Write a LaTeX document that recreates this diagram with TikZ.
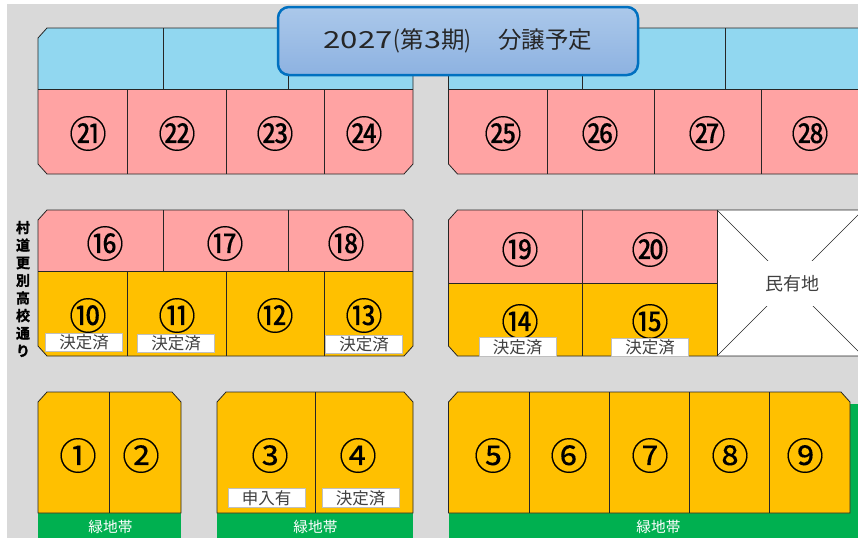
\documentclass[tikz,border=0pt]{standalone}
\usepackage{fontspec}
\setmainfont{Noto Sans CJK JP}
\newfontfamily\numfont{Noto Sans CJK JP}[FakeBold=0.2]
\newfontfamily\roadfont{Noto Sans CJK JP Bold}[FakeBold=1.5]
\usetikzlibrary{shadings}
\definecolor{roadgray}{HTML}{D9D9D9}
\definecolor{lotpink}{HTML}{FFA3A3}
\definecolor{lotblue}{HTML}{91D7F0}
\definecolor{lotorange}{HTML}{FFC000}
\definecolor{beltgreen}{HTML}{00B050}
\definecolor{titleedge}{HTML}{0070C0}
\definecolor{titletop}{HTML}{ABC8EA}
\definecolor{titlebot}{HTML}{8DB2E1}
\definecolor{tagedge}{HTML}{BFBFBF}
\definecolor{tagtext}{HTML}{404040}
\tikzset{
  lotline/.style={draw=black!85,line width=0.8pt},
  numlabel/.style={inner sep=0pt,font=\numfont\fontsize{37.5}{37.5}\selectfont,text=black},
  tagbox/.style={draw=tagedge,line width=1pt,fill=white,minimum width=77pt,minimum height=18.5pt,inner sep=0pt,text=tagtext,font=\fontsize{16.5}{16.5}\selectfont},
  beltlabel/.style={inner sep=0pt,text=white,font=\fontsize{14.7}{14.7}\selectfont},
}
\newcommand{\lotnum}[3]{\node[numlabel] (n#3) at (#1,#2+0.5) {#3};}
\begin{document}
\begin{tikzpicture}[x=1pt,y=-1pt]
\useasboundingbox (0,0) rectangle (858,538);
\fill[white] (0,0) rectangle (858,538);
\fill[roadgray] (7,4) rectangle (858,538);
% top-left block
\fill[lotblue] (38,89) -- (38,38) -- (47,28) -- (413,28) -- (413,89) -- cycle;
\fill[lotpink] (38,89) -- (413,89) -- (413,164) -- (404,174) -- (47,174) -- (38,164) -- cycle;
\draw[lotline] (38,89) -- (38,38) -- (47,28) -- (413,28) -- (413,164) -- (404,174) -- (47,174) -- (38,164) -- cycle;
\draw[lotline] (38,89) -- (413,89);
\draw[lotline] (163.5,28) -- (163.5,89) (288.5,28) -- (288.5,89);
\draw[lotline] (127.5,89) -- (127.5,174) (226,89) -- (226,174) (324,89) -- (324,174);
% top-right block
\fill[lotblue] (448.5,28) rectangle (858,89);
\fill[lotpink] (448.5,89) -- (858,89) -- (858,174) -- (457.5,174) -- (448.5,164) -- cycle;
\draw[lotline] (858,28) -- (448.5,28) -- (448.5,164) -- (457.5,174) -- (858,174);
\draw[lotline] (448.5,89) -- (858,89);
\draw[lotline] (582.5,28) -- (582.5,89) (725.5,28) -- (725.5,89);
\draw[lotline] (547,89) -- (547,174) (654,89) -- (654,174) (761,89) -- (761,174);
% middle-left block
\fill[lotpink] (38,271) -- (38,220) -- (47,210) -- (404,210) -- (413,220) -- (413,271) -- cycle;
\fill[lotorange] (38,271) -- (413,271) -- (413,346) -- (404,356) -- (47,356) -- (38,346) -- cycle;
\draw[lotline] (38,220) -- (47,210) -- (404,210) -- (413,220) -- (413,346) -- (404,356) -- (47,356) -- (38,346) -- cycle;
\draw[lotline] (38,271) -- (413,271);
\draw[lotline] (163.5,210) -- (163.5,271) (288.5,210) -- (288.5,271);
\draw[lotline] (127.5,271) -- (127.5,356) (226,271) -- (226,356) (324,271) -- (324,356);
% middle-right block
\fill[lotpink] (448.5,283) -- (448.5,220) -- (457.5,210) -- (717,210) -- (717,283) -- cycle;
\fill[lotorange] (448.5,283) -- (717,283) -- (717,356) -- (457.5,356) -- (448.5,346) -- cycle;
\fill[white] (717,210) rectangle (858,356);
\draw[lotline] (858,210) -- (457.5,210) -- (448.5,220) -- (448.5,346) -- (457.5,356) -- (858,356);
\draw[lotline] (448.5,283) -- (717,283);
\draw[lotline] (582.5,210) -- (582.5,356);
\draw[lotline] (717,210) -- (717,356);
\draw[line width=0.6pt,black!85] (717,210) -- (863,356) (717,356) -- (863,210);
\node[fill=white,minimum width=46pt,minimum height=45pt,inner sep=0pt,text=tagtext,font=\fontsize{18}{18}\selectfont] (owner) at (792,283.5) {民有地};
% bottom blocks
\fill[beltgreen] (38,513) rectangle (181,538);
\fill[beltgreen] (217,513) rectangle (413,538);
\fill[beltgreen] (448.5,513) rectangle (858,538);
\fill[beltgreen] (850,404) rectangle (858,513);
\fill[lotorange] (38,513) -- (38,402) -- (47,392) -- (172,392) -- (181,402) -- (181,513) -- cycle;
\draw[lotline] (38,513) -- (38,402) -- (47,392) -- (172,392) -- (181,402) -- (181,513) -- cycle;
\draw[lotline] (109.5,392) -- (109.5,513);
\fill[lotorange] (217,513) -- (217,402) -- (226,392) -- (404,392) -- (413,402) -- (413,513) -- cycle;
\draw[lotline] (217,513) -- (217,402) -- (226,392) -- (404,392) -- (413,402) -- (413,513) -- cycle;
\draw[lotline] (315,392) -- (315,513);
\fill[lotorange] (448.5,513) -- (448.5,402) -- (457.5,392) -- (841,392) -- (850,402) -- (850,513) -- cycle;
\draw[lotline] (448.5,513) -- (448.5,402) -- (457.5,392) -- (841,392) -- (850,402) -- (850,513) -- cycle;
\draw[lotline] (529,392) -- (529,513) (609.5,392) -- (609.5,513) (689.5,392) -- (689.5,513) (769.5,392) -- (769.5,513);
\node[beltlabel] (b1) at (110.5,527) {緑地帯};
\node[beltlabel] (b2) at (315.5,527) {緑地帯};
\node[beltlabel] (b3) at (658.5,527) {緑地帯};
% numbers
\lotnum{88}{133}{㉑}\lotnum{177}{133}{㉒}\lotnum{275}{133}{㉓}\lotnum{364}{133}{㉔}
\lotnum{503}{133}{㉕}\lotnum{600}{133}{㉖}\lotnum{707}{133}{㉗}\lotnum{810}{133}{㉘}
\lotnum{105}{243}{⑯}\lotnum{225}{243}{⑰}\lotnum{346}{243}{⑱}
\lotnum{520}{249}{⑲}\lotnum{650}{249}{⑳}
\lotnum{88}{315}{⑩}\lotnum{177}{315}{⑪}\lotnum{275}{315}{⑫}\lotnum{364}{315}{⑬}
\lotnum{520}{321}{⑭}\lotnum{650}{321}{⑮}
\lotnum{78}{455}{①}\lotnum{141}{455}{②}\lotnum{270}{455}{③}\lotnum{358}{455}{④}
\lotnum{493}{455}{⑤}\lotnum{569}{455}{⑥}\lotnum{650}{455}{⑦}\lotnum{730}{455}{⑧}\lotnum{805}{455}{⑨}
% tags
\node[tagbox] (t10) at (84,342.5) {決定済};
\node[tagbox] (t11) at (176,343.5) {決定済};
\node[tagbox] (t13) at (364,344.5) {決定済};
\node[tagbox] (t14) at (517.5,347) {決定済};
\node[tagbox] (t15) at (650,347.5) {決定済};
\node[tagbox] (t3) at (266.5,498) {申入有};
\node[tagbox] (t4) at (360.5,498) {決定済};
% road name
\node[inner sep=0pt,align=center,font=\roadfont\fontsize{14}{17.6}\selectfont,text=black] (road) at (23,289) {村\\道\\更\\別\\高\\校\\通\\り};
% title
\node[draw=titleedge,line width=2.5pt,rounded corners=11pt,top color=titletop,bottom color=titlebot,minimum width=360pt,minimum height=68pt,inner sep=0pt,text=black!85,font=\fontsize{23.5}{23.5}\selectfont] (title) at (458,41) {\scalebox{1.33}[1]{2027}\kern 1pt\scalebox{0.85}[1]{(}第\scalebox{1.3}[1]{3}期\scalebox{0.85}[1]{)}\hspace{1.15em}分譲予定};
\end{tikzpicture}
\end{document}
